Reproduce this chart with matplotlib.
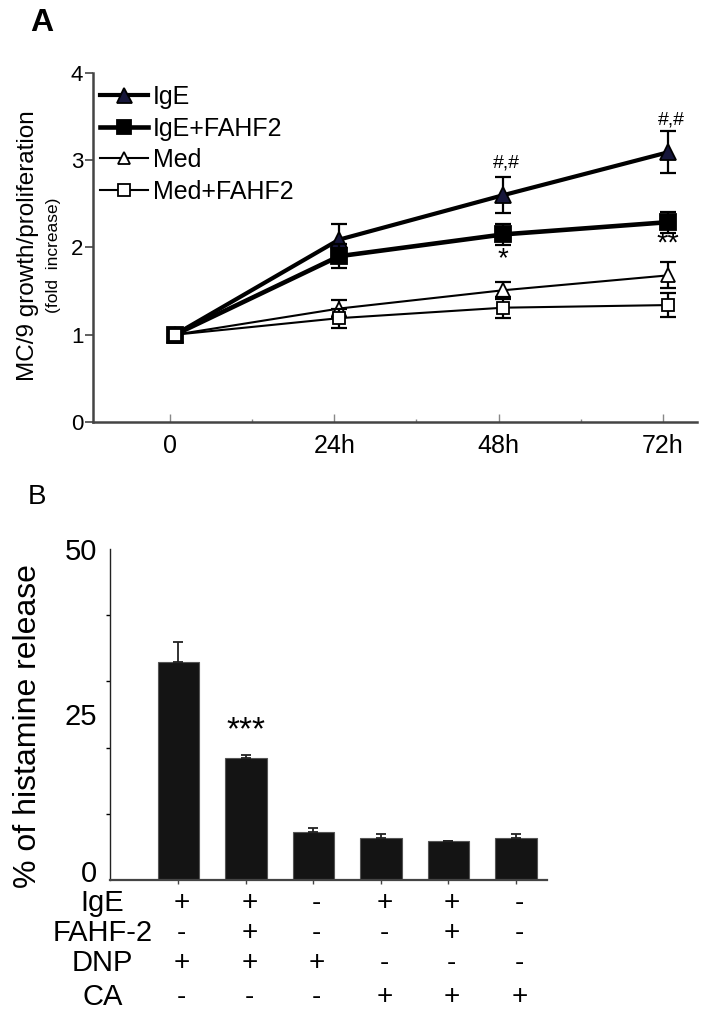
import matplotlib
matplotlib.use('Agg')
import matplotlib.pyplot as plt
import matplotlib.transforms as mtransforms
from matplotlib.lines import Line2D
import numpy as np

plt.rcParams['font.family'] = ['Liberation Sans', 'DejaVu Sans']

# ---- panel A data: fold increase of MC/9 growth ----
hours = [0, 24, 48, 72]
hour_labels = ['0', '24h', '48h', '72h']
ige = [1.0, 2.09, 2.60, 3.09]
ige_err = [0.06, 0.18, 0.21, 0.24]
ige_fahf2 = [1.0, 1.90, 2.15, 2.29]
ige_fahf2_err = [0.08, 0.14, 0.12, 0.12]
med = [1.0, 1.30, 1.51, 1.68]
med_err = [0.05, 0.10, 0.10, 0.15]
med_fahf2 = [1.0, 1.19, 1.31, 1.34]
med_fahf2_err = [0.05, 0.11, 0.12, 0.14]

# ---- panel B data: histamine release ----
hist = [33.0, 18.4, 7.3, 6.4, 5.9, 6.4]
hist_err = [3.0, 0.5, 0.6, 0.5, 0.0, 0.5]
row_names = ['IgE', 'FAHF-2', 'DNP', 'CA']
signs = [['+', '+', '-', '+', '+', '-'],
         ['-', '+', '-', '-', '+', '-'],
         ['+', '+', '+', '-', '-', '-'],
         ['-', '-', '-', '+', '+', '+']]

fig = plt.figure(figsize=(7.09, 10.21), dpi=100)

# ================= A =================
ax = fig.add_axes([0.1312, 0.5867, 0.8519, 0.3418])
spine_col = '#444444'

series = [
    (ige, ige_err, 'IgE', '^', '#16163a', 3.0, 12),
    (ige_fahf2, ige_fahf2_err, 'IgE+FAHF2', 's', 'black', 3.3, 11),
    (med, med_err, 'Med', '^', 'white', 1.5, 10),
    (med_fahf2, med_fahf2_err, 'Med+FAHF2', 's', 'white', 1.5, 9),
]
handles = []
for vals, errs, lab, mk, fc, lw, ms in series:
    ax.errorbar(hours, vals, yerr=errs, fmt='none', ecolor='black',
                elinewidth=1.6, capsize=5.5, capthick=1.6)
    ax.plot(hours, vals, color='black', lw=lw, marker=mk, markersize=ms,
            markerfacecolor=fc, markeredgecolor='black', markeredgewidth=1.3)
    handles.append(Line2D([], [], color='black', lw=lw, marker=mk,
                          markersize=ms * 0.9, markerfacecolor=fc,
                          markeredgecolor='black', markeredgewidth=1.3,
                          label=lab))

ax.set_xlim(-11.95, 76.3)
ax.set_ylim(0, 4)
ax.set_yticks([0, 1, 2, 3, 4])
# tick marks sit a little left of the points in the original
ax.set_xticks([h - 0.7 for h in hours])
ax.set_xticklabels(hour_labels)
ax.set_xticks([h - 0.7 + 12 for h in hours[:-1]], minor=True)
ax.tick_params(axis='x', which='major', direction='in', length=6, width=1,
               color='#888888', labelsize=18, pad=9)
ax.tick_params(axis='x', which='minor', direction='in', length=2, width=1,
               color='#888888')
ax.tick_params(axis='y', direction='out', length=6, width=1.2, color=spine_col,
               labelsize=16, pad=1)
for s in ['top', 'right']:
    ax.spines[s].set_visible(False)
for s in ['left', 'bottom']:
    ax.spines[s].set_color(spine_col)
    ax.spines[s].set_linewidth(1.8)

ax.legend(handles=handles, loc='upper left', bbox_to_anchor=(0.012, 0.965),
          frameon=False, fontsize=18, handlelength=1.9, handletextpad=0.2,
          labelspacing=0.3, borderpad=0, borderaxespad=0, numpoints=1)

ax.text(48.5, 2.97, '#,#', ha='center', va='center', fontsize=14)
ax.text(72.5, 3.46, '#,#', ha='center', va='center', fontsize=14)
ax.text(48, 1.87, '*', ha='center', va='center', fontsize=20)
ax.text(72, 2.04, '**', ha='center', va='center', fontsize=21)

fig.text(0.040, 1 - 246 / 1021, 'MC/9 growth/proliferation', rotation=90,
         ha='center', va='center', fontsize=17.5)
fig.text(0.076, 1 - 255 / 1021, '(fold  increase)', rotation=90,
         ha='center', va='center', fontsize=12.5)
fig.text(0.059, 1 - 23 / 1021, 'A', ha='center', va='center', fontsize=23,
         fontweight='bold')

# ================= B =================
bx = fig.add_axes([0.1551, 0.1381, 0.6164, 0.3242])
xpos = np.arange(len(hist))
bx.bar(xpos, hist, width=0.62, color='#141414', edgecolor='#555555', lw=0.8)
bx.errorbar(xpos, hist, yerr=[np.zeros(len(hist)), hist_err], fmt='none',
            ecolor='#222222', elinewidth=1.3, capsize=3.5, capthick=1.3)
bx.set_xlim(-1.015, 5.46)
bx.set_ylim(0, 50)
bx.set_yticks([0, 25, 50])
bx.set_yticks([0, 10, 20, 30, 40, 50], minor=True)
bx.tick_params(axis='y', which='major', length=0, labelsize=21, pad=9)
bx.tick_params(axis='y', which='minor', direction='out', length=3, width=1)
bx.set_xticks(xpos)
bx.set_xticklabels([])
bx.tick_params(axis='x', direction='out', length=3, width=1, color='#444444')
for s in ['top', 'right']:
    bx.spines[s].set_visible(False)
bx.spines['left'].set_linewidth(1.0)
bx.spines['left'].set_color('#222222')
bx.spines['bottom'].set_linewidth(1.6)
bx.spines['bottom'].set_color('#444444')

# the "0" label sits a bit above its tick in the original
zero_lab = bx.get_yticklabels()[0]
zero_lab.set_transform(zero_lab.get_transform() +
                       mtransforms.ScaledTranslation(0, 9 / 100,
                                                     fig.dpi_scale_trans))

bx.text(1, 22.6, '***', ha='center', va='center', fontsize=24)

trans = mtransforms.blended_transform_factory(bx.transData, bx.transAxes)
row_y = [-0.0695, -0.160, -0.251, -0.353]
for r, name in enumerate(row_names):
    bx.text(-1.13, row_y[r], name, transform=trans, ha='center', va='center',
            fontsize=21)
    for i, sg in enumerate(signs[r]):
        bx.text(xpos[i] + 0.05, row_y[r], sg, transform=trans, ha='center',
                va='center', fontsize=20)

fig.text(0.040, 1 - 726 / 1021, '% of histamine release', rotation=90,
         ha='center', va='center', fontsize=23)
fig.text(0.052, 1 - 497 / 1021, 'B', ha='center', va='center', fontsize=20)

fig.savefig('out.png', dpi=100)
